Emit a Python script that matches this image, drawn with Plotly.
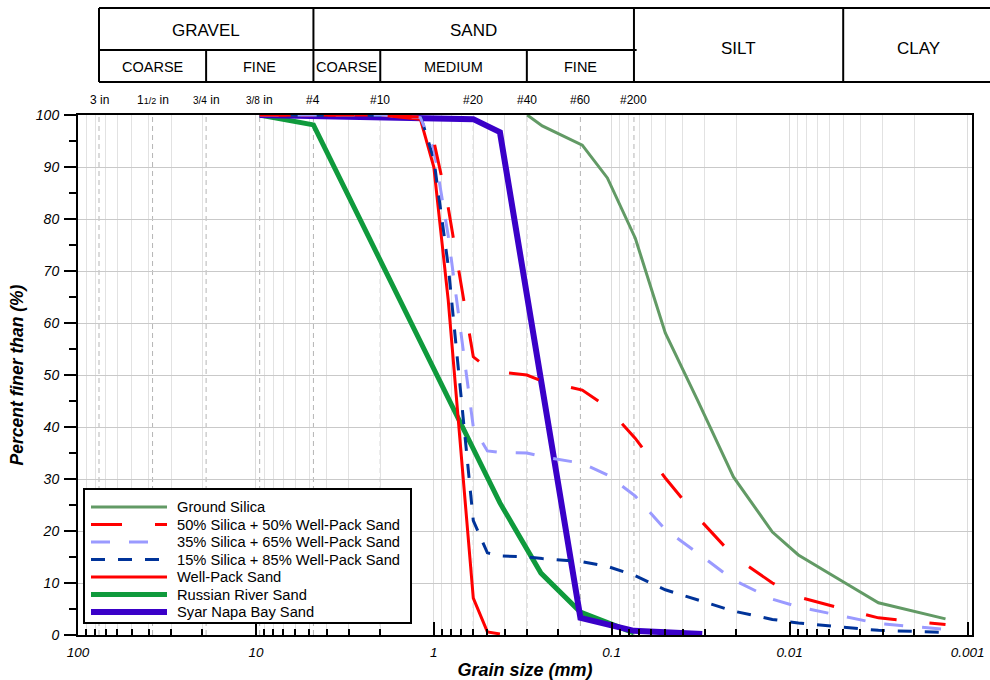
import numpy as np
import plotly.graph_objects as go

FONT = "Liberation Sans, Arial, sans-serif"

# ---- grain-size distributions (diameter in mm, percent finer) ----
silica_d = [0.2985, 0.2457, 0.1464, 0.1058, 0.0737, 0.0500, 0.0330, 0.0207,
            0.0125, 0.00893, 0.00498, 0.00317, 0.00133]
silica_p = [100, 97.9, 94.2, 87.9, 76.3, 58.1, 45.2, 30.4, 19.8, 15.4, 10.2, 6.2, 3.1]

mix_d = [9.525, 2.0, 1.19, 1.0, 0.83, 0.6, 0.5, 0.425, 0.3, 0.2457, 0.1464, 0.1058,
         0.0737, 0.0500, 0.0330, 0.0207, 0.0125, 0.00893, 0.00498, 0.00317, 0.00133]
mix50_p = [100, 100, 99.6, 95.0, 82.2, 53.5, 51.3, 50.6, 50.0, 48.8, 47.1, 43.8,
           37.8, 30.2, 22.7, 15.2, 10.0, 7.3, 5.0, 3.3, 2.0]
mix35_p = [100, 100, 99.5, 93.5, 76.8, 40.0, 35.4, 35.1, 35.0, 34.3, 33.0, 30.8,
           26.7, 20.3, 15.8, 10.6, 6.9, 5.4, 3.6, 2.2, 1.1]
mix15_p = [100, 100, 99.9, 91.5, 71.0, 22.0, 15.8, 15.2, 15.0, 14.7, 14.1, 13.2,
           11.4, 8.7, 6.8, 4.6, 3.0, 2.3, 1.5, 0.9, 0.5]

wellpack_d = [9.525, 2.0, 1.19, 1.0, 0.83, 0.6, 0.5, 0.425]
wellpack_p = [100, 100, 99.2, 90.0, 64.4, 7.1, 0.6, 0.2]

russian_d = [9.525, 4.75, 0.425, 0.25, 0.15, 0.075]
russian_p = [100, 98.1, 25.4, 11.9, 4.4, 0.4]

syar_d = [9.525, 0.6, 0.425, 0.15, 0.075, 0.031]
syar_p = [100, 99.2, 96.7, 3.3, 0.8, 0.2]

# ---- sieve openings marked above the plot ----
sieve_mm = [76.2, 38.1, 19.05, 9.525, 4.75, 2.0, 0.6, 0.3, 0.15, 0.075]
sieve_labels = ["3 in", "1<span style='font-size:9px'>1/2</span> in",
                "<span style='font-size:10px'>3/4</span> in",
                "<span style='font-size:10px'>3/8</span> in",
                "#4", "#10", "#20", "#40", "#60", "#200"]

# ---- soil classification header ----
grain_bounds = [76.2, 19.05, 4.75, 2.0, 0.3, 0.075, 0.005]
x_ticks = [100, 10, 1, 0.1, 0.01, 0.001]
x_ticktext = ["100", "10", "1", "0.1", "0.01", "0.001"]

X_RANGE = [2.0, -3.025]          # log10 of mm, coarse on the left
W, H = 990, 680
M = dict(l=78, r=18, t=115, b=45)
PW, PH = W - M["l"] - M["r"], H - M["t"] - M["b"]


def xpaper(d):
    """paper x for a diameter in mm"""
    return (np.log10(d) - X_RANGE[0]) / (X_RANGE[1] - X_RANGE[0])


def px_x(px):
    return (px - M["l"]) / PW


def px_y(py):
    return (H - M["b"] - py) / PH


fig = go.Figure()

series = [
    # name, d, p, color, width, dash, legend position
    ("Ground Silica", silica_d, silica_p, "#629a65", 3, "solid", 0),
    ("Russian River Sand", russian_d, russian_p, "#0f9a3c", 5, "solid", 5),
    ("Syar Napa Bay Sand", syar_d, syar_p, "#3a00c8", 6, "solid", 6),
    ("Well-Pack Sand", wellpack_d, wellpack_p, "#ff0000", 3, "solid", 4),
    ("15% Silica + 85% Well-Pack Sand", mix_d, mix15_p, "#003399", 3, "14px,13px", 3),
    ("35% Silica + 65% Well-Pack Sand", mix_d, mix35_p, "#9a9aff", 3, "19px,19px", 2),
    ("50% Silica + 50% Well-Pack Sand", mix_d, mix50_p, "#ff0000", 3, "31px,33px", 1),
]
for name, d, p, color, width, dash, _ in series:
    fig.add_trace(go.Scatter(
        x=d, y=p, mode="lines", name=name, showlegend=False,
        line=dict(color=color, width=width, dash=dash),
    ))

shapes = []
annotations = []

# dashed sieve lines inside the plot
for d in sieve_mm:
    shapes.append(dict(type="line", xref="x", yref="paper", x0=d, x1=d, y0=0, y1=1,
                       layer="between", line=dict(color="#b5b5b5", width=1, dash="5px,4px")))

# header table
Y_TOP, Y_MID, Y_BOT = px_y(8), px_y(50), px_y(82)
tbl = dict(color="black", width=2)
x_left = xpaper(grain_bounds[0])
for yy in (Y_TOP, Y_BOT):
    shapes.append(dict(type="line", xref="paper", yref="paper", x0=x_left, x1=1.05,
                       y0=yy, y1=yy, line=tbl))
shapes.append(dict(type="line", xref="paper", yref="paper", x0=x_left,
                   x1=xpaper(grain_bounds[5]) + 0.003, y0=Y_MID, y1=Y_MID, line=tbl))
for d in [grain_bounds[0], grain_bounds[2], grain_bounds[5], grain_bounds[6]]:
    shapes.append(dict(type="line", xref="paper", yref="paper", x0=xpaper(d), x1=xpaper(d),
                       y0=Y_BOT, y1=Y_TOP, line=tbl))
for d in [grain_bounds[1], grain_bounds[3], grain_bounds[4]]:
    shapes.append(dict(type="line", xref="paper", yref="paper", x0=xpaper(d), x1=xpaper(d),
                       y0=Y_BOT, y1=Y_MID, line=tbl))

for d, lab in zip(sieve_mm, sieve_labels):
    annotations.append(dict(x=np.log10(d), y=px_y(100), xref="x", yref="paper", text=lab,
                            showarrow=False, xanchor="center", yanchor="middle",
                            font=dict(family=FONT, size=12, color="black")))


def mid(a, b):
    return (xpaper(a) + xpaper(b)) / 2


header = [
    ("GRAVEL", mid(grain_bounds[0], grain_bounds[2]), px_y(31), 17),
    ("SAND", mid(grain_bounds[2], grain_bounds[5]), px_y(31), 17),
    ("SILT", mid(grain_bounds[5], grain_bounds[6]), px_y(48), 17),
    ("CLAY", px_x(918), px_y(48), 17),
    ("COARSE", mid(grain_bounds[0], grain_bounds[1]), px_y(67), 14.5),
    ("FINE", mid(grain_bounds[1], grain_bounds[2]), px_y(67), 14.5),
    ("COARSE", mid(grain_bounds[2], grain_bounds[3]), px_y(67), 14.5),
    ("MEDIUM", mid(grain_bounds[3], grain_bounds[4]), px_y(67), 14.5),
    ("FINE", mid(grain_bounds[4], grain_bounds[5]), px_y(67), 14.5),
]
for text, xp, yp, size in header:
    annotations.append(dict(x=xp, y=yp, xref="paper", yref="paper", text=text, showarrow=False,
                            xanchor="center", yanchor="middle",
                            font=dict(family=FONT, size=size, color="black")))

# legend box drawn inside the plot, lower left
shapes.append(dict(type="rect", xref="paper", yref="paper",
                   x0=px_x(84), x1=px_x(411), y0=px_y(623), y1=px_y(489),
                   fillcolor="white", line=dict(color="black", width=2), layer="above"))
for name, d, p, color, width, dash, pos in series:
    yy = px_y(507 + 17.5 * pos)
    shapes.append(dict(type="line", xref="paper", yref="paper",
                       x0=px_x(91), x1=px_x(167), y0=yy, y1=yy, layer="above",
                       line=dict(color=color, width=width, dash=dash)))
    annotations.append(dict(x=px_x(175), y=yy, xref="paper", yref="paper", text=name,
                            showarrow=False, xanchor="left", yanchor="middle",
                            font=dict(family=FONT, size=14.7, color="black")))

fig.update_layout(
    width=W, height=H,
    margin=M,
    paper_bgcolor="white", plot_bgcolor="white",
    font=dict(family=FONT, color="black"),
    shapes=shapes, annotations=annotations,
    showlegend=False,
)

fig.update_xaxes(
    type="log", range=X_RANGE, autorange=False, automargin=False,
    tickvals=x_ticks, ticktext=x_ticktext,
    tickfont=dict(family=FONT, size=13.5, style="italic", color="black"),
    ticks="inside", ticklen=13, tickwidth=1.5, tickcolor="black",
    ticklabelstandoff=4,
    showgrid=True, gridcolor="#dcdcdc", gridwidth=1,
    minor=dict(dtick="D1", ticks="inside", ticklen=6, tickwidth=1.5, tickcolor="black",
               showgrid=True, gridcolor="#e2e2e2", gridwidth=1),
    showline=True, linewidth=2, linecolor="black", mirror=True,
    zeroline=False,
    title=dict(text="<b><i>Grain size (mm)</i></b>", standoff=4,
               font=dict(family=FONT, size=18, color="black")),
)
fig.update_yaxes(
    range=[0, 100], autorange=False, automargin=False, dtick=10,
    tickfont=dict(family=FONT, size=14, style="italic", color="black"),
    ticks="outside", ticklen=12, tickwidth=1.5, tickcolor="black",
    ticklabelstandoff=2,
    showgrid=True, gridcolor="#c9c9c9", gridwidth=1,
    minor=dict(dtick=5, ticks="outside", ticklen=7, tickwidth=1.5, tickcolor="black",
               showgrid=False),
    showline=True, linewidth=2, linecolor="black", mirror=True,
    zeroline=False,
    title=dict(text="<b><i>Percent finer than (%)</i></b>", standoff=8,
               font=dict(family=FONT, size=17.5, color="black")),
)

fig.write_html("out.html")
